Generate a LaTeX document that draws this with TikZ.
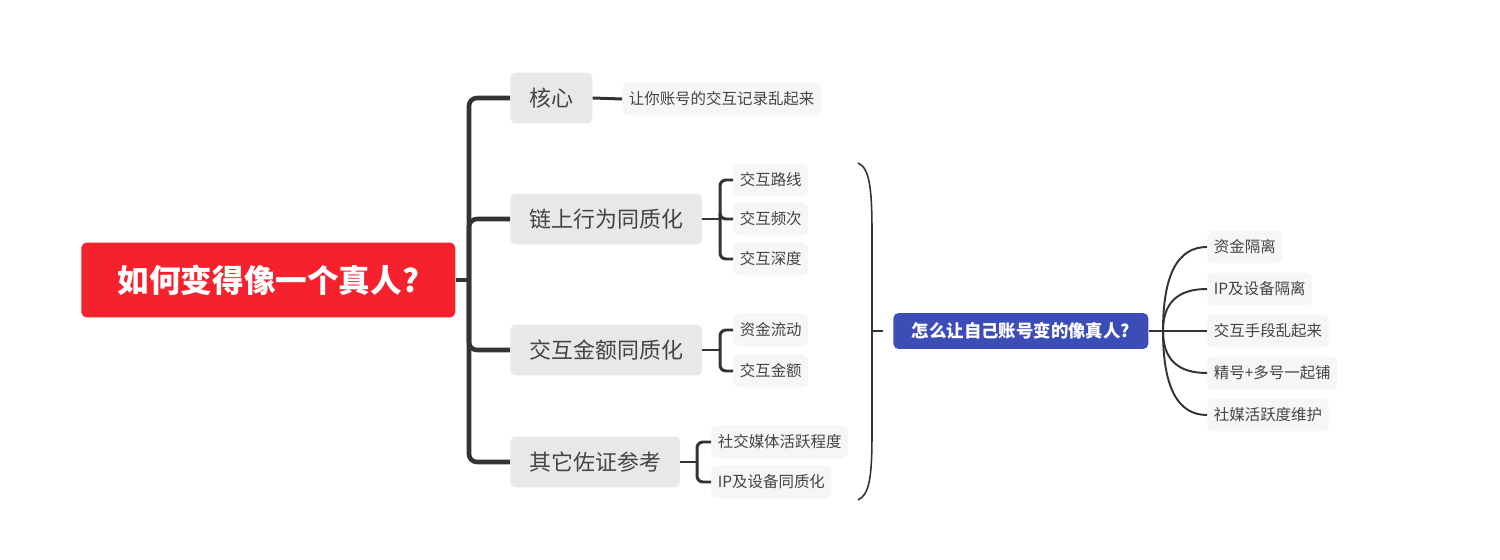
\documentclass[tikz,border=0pt]{standalone}
\usepackage{fontspec}
\setmainfont{Noto Sans CJK SC}
\usetikzlibrary{positioning,calc}
\definecolor{rootred}{HTML}{F5222D}
\definecolor{askblue}{HTML}{3D4DB7}
\definecolor{linegrey}{HTML}{333333}
\definecolor{textgrey}{HTML}{444444}
\definecolor{topicgrey}{HTML}{E8E8E8}
\definecolor{leafgrey}{HTML}{F6F6F6}

\begin{document}
\begin{tikzpicture}[x=0.02cm, y=-0.02cm,
    rootbox/.style={rectangle, fill=rootred, text=white, rounded corners=3pt,
        font=\fontsize{18}{21}\selectfont\bfseries, minimum width=7.48cm,
        minimum height=1.5cm, inner sep=0pt},
    topicbox/.style={rectangle, fill=topicgrey, text=textgrey, rounded corners=3pt,
        font=\fontsize{12.5}{15}\selectfont, inner xsep=0.38cm, inner ysep=0pt,
        minimum height=1.02cm},
    leafbox/.style={rectangle, fill=leafgrey, text=textgrey, rounded corners=3pt,
        font=\fontsize{8.8}{11}\selectfont, inner xsep=0.13cm, inner ysep=0pt,
        minimum height=0.66cm},
    askbox/.style={rectangle, fill=askblue, text=white, rounded corners=3pt,
        font=\fontsize{9.9}{12}\selectfont\bfseries, inner xsep=0.37cm, inner ysep=0pt,
        minimum height=0.72cm},
    trunk/.style={line width=2.6pt, linegrey, rounded corners=0.16cm},
    twig/.style={line width=1.7pt, linegrey, rounded corners=0.12cm},
    fanline/.style={line width=1.1pt, linegrey},
    braceline/.style={line width=0.9pt, linegrey}
]
    \useasboundingbox (0,0) rectangle (1500,560);

    % left map
    \node[rootbox, anchor=west] (root) at (81,280) {如何变得像一个真人?};
    \coordinate (hub) at (469,280);

    \node[topicbox, anchor=west] (core) at (510,98) {核心};
    \node[topicbox, anchor=west] (chain) at (510,219) {链上行为同质化};
    \node[topicbox, anchor=west] (amount) at (510,350) {交互金额同质化};
    \node[topicbox, anchor=west] (other) at (510,462) {其它佐证参考};

    \node[leafbox, anchor=west] (mess) at (622,99) {让你账号的交互记录乱起来};
    \node[leafbox, anchor=west] (route) at (733,180) {交互路线};
    \node[leafbox, anchor=west] (freq) at (733,219) {交互频次};
    \node[leafbox, anchor=west] (depth) at (733,259) {交互深度};
    \node[leafbox, anchor=west] (flow) at (733,330) {资金流动};
    \node[leafbox, anchor=west] (sum) at (733,371) {交互金额};
    \node[leafbox, anchor=west] (social) at (711,442) {社交媒体活跃程度};
    \node[leafbox, anchor=west] (device) at (711,482) {IP及设备同质化};

    \coordinate (chainhub) at (720,219);
    \coordinate (amounthub) at (720,350);
    \coordinate (otherhub) at (697,462);

    \draw[trunk] (root.east) -- (hub);
    \draw[trunk] (hub) |- (core.west);
    \draw[trunk] (hub) |- (chain.west);
    \draw[trunk] (hub) |- (amount.west);
    \draw[trunk] (hub) |- (other.west);

    \draw[twig] (core.east) -- (mess.west);
    \draw[twig] (chain.east) -- (chainhub);
    \draw[twig] (chainhub) |- (route.west);
    \draw[twig] (chainhub) |- (freq.west);
    \draw[twig] (chainhub) |- (depth.west);
    \draw[twig] (amount.east) -- (amounthub);
    \draw[twig] (amounthub) |- (flow.west);
    \draw[twig] (amounthub) |- (sum.west);
    \draw[twig] (other.east) -- (otherhub);
    \draw[twig] (otherhub) |- (social.west);
    \draw[twig] (otherhub) |- (device.west);

    % summary bracket
    \coordinate (brtop) at (858,163);
    \coordinate (brbot) at (858,500);
    \coordinate (brmid) at (873,331);
    \coordinate (brtip) at (883,331);
    \draw[braceline] (brtop) .. controls (870,168) and (872,190) .. (872,235)
        -- (872,430) .. controls (872,476) and (870,494) .. (brbot);
    \draw[braceline] (brmid) -- (brtip);

    % right map
    \node[askbox, anchor=west] (ask) at (893,331) {怎么让自己账号变的像真人?};
    \coordinate (fan) at (1163,331);

    \node[leafbox, anchor=west] (fund) at (1207,247) {资金隔离};
    \node[leafbox, anchor=west] (ipsplit) at (1207,289) {IP及设备隔离};
    \node[leafbox, anchor=west] (shuffle) at (1207,331) {交互手段乱起来};
    \node[leafbox, anchor=west] (multi) at (1207,373) {精号+多号一起铺};
    \node[leafbox, anchor=west] (media) at (1207,415) {社媒活跃度维护};

    \draw[fanline] (ask.east) -- (fan);
    \draw[fanline] (fan) .. controls ($(fan)!0.67!(fan |- fund.west)$)
        and ($(fund.west)!0.67!(fan |- fund.west)$) .. (fund.west);
    \draw[fanline] (fan) .. controls ($(fan)!0.67!(fan |- ipsplit.west)$)
        and ($(ipsplit.west)!0.67!(fan |- ipsplit.west)$) .. (ipsplit.west);
    \draw[fanline] (fan) -- (shuffle.west);
    \draw[fanline] (fan) .. controls ($(fan)!0.67!(fan |- multi.west)$)
        and ($(multi.west)!0.67!(fan |- multi.west)$) .. (multi.west);
    \draw[fanline] (fan) .. controls ($(fan)!0.67!(fan |- media.west)$)
        and ($(media.west)!0.67!(fan |- media.west)$) .. (media.west);
\end{tikzpicture}
\end{document}
